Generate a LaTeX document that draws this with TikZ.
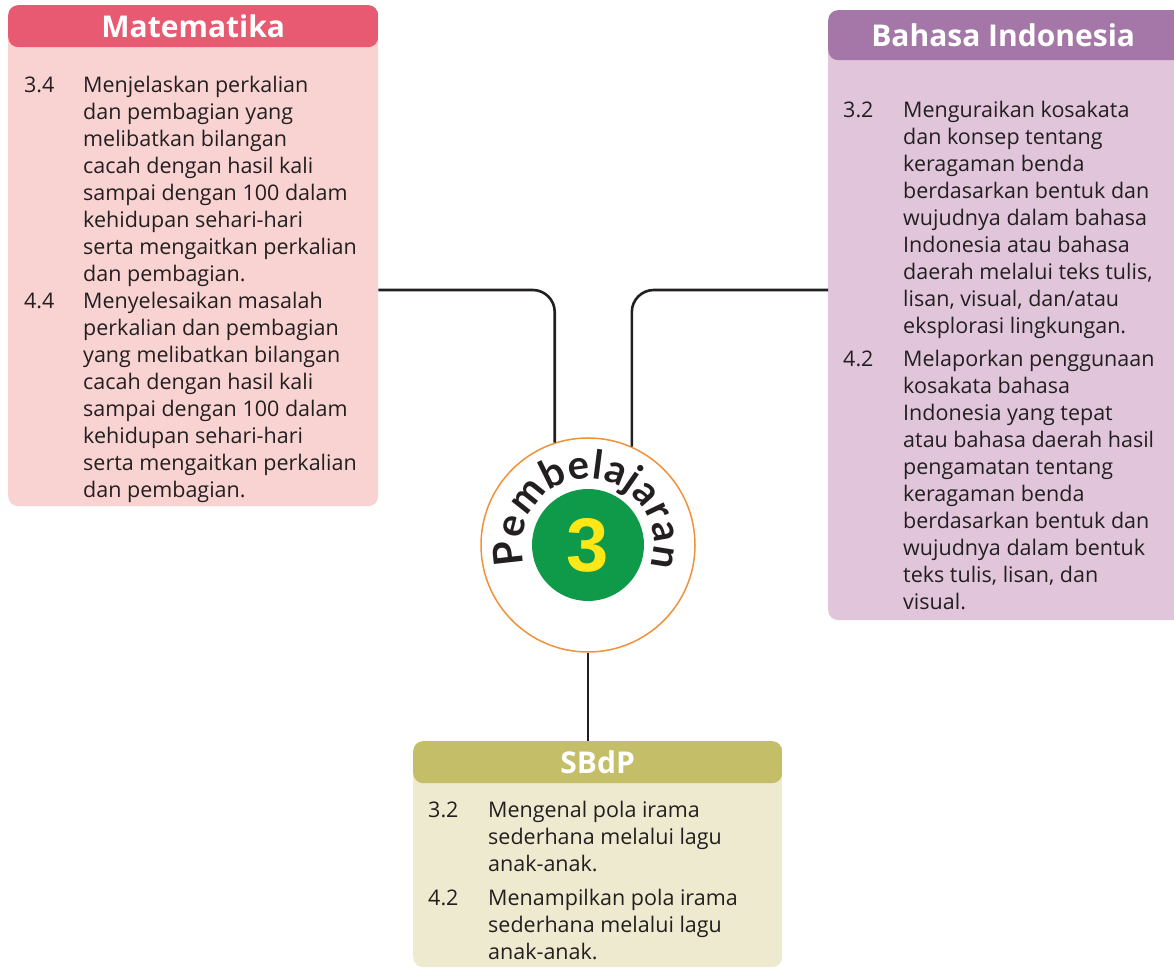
\documentclass[tikz,border=0pt]{standalone}
\usepackage{fontspec}
\setmainfont{Open Sans}
\newfontfamily\digitfont{Liberation Sans}
\newfontfamily\arcfont{Lato}
\usetikzlibrary{positioning,decorations.text}
\definecolor{matdark}{HTML}{E85A71}
\definecolor{matlight}{HTML}{F9D3D2}
\definecolor{bindark}{HTML}{A577A8}
\definecolor{binlight}{HTML}{E1C6DB}
\definecolor{sbdark}{HTML}{C5BE68}
\definecolor{sblight}{HTML}{EEEAD0}
\definecolor{ring}{HTML}{F0923A}
\definecolor{numgreen}{HTML}{0E9A48}
\definecolor{numyellow}{HTML}{FFE617}
\definecolor{ink}{HTML}{231F20}
\begin{document}
\begin{tikzpicture}[x=1pt,y=1pt,
  panel/.style n args={3}{rounded corners=10pt, inner sep=0pt, anchor=north west, fill=#2,
    path picture={\fill[#1] (path picture bounding box.north west) rectangle ([yshift=-#3]path picture bounding box.north east);}},
  title/.style={inner sep=0pt, text=white, font=\fontsize{30}{34}\selectfont\bfseries},
  items/.style={inner sep=0pt, anchor=north west, text=ink, font=\fontsize{21.5}{27}\selectfont},
  link/.style={draw=ink, line width=2.6pt, rounded corners=22pt}]
  \useasboundingbox (0,0) rectangle (1174,968);
  % boxes
  \node[panel={matdark}{matlight}{42pt}, minimum width=370, minimum height=501] (mat) at (8,963) {};
  \node[panel={bindark}{binlight}{50pt}, minimum width=356, minimum height=610] (bind) at (828,958) {};
  \node[panel={sbdark}{sblight}{42pt}, minimum width=369, minimum height=226] (sbdp) at (413,227) {};
  \node[title, minimum height=42, below=0pt of mat.north] (mathead) {Matematika};
  \node[title, minimum height=50, below=0pt of bind.north, xshift=-3pt] (bindhead) {Bahasa Indonesia};
  \node[title, minimum height=42, below=0pt of sbdp.north] (sbdphead) {SBdP};
  % lists
  \node[items, below right=68pt and 16pt of mat.north west] (matlist) {%
    \begin{tabular}{@{}p{59pt}@{}l@{}}
      3.4 & Menjelaskan perkalian\\
          & dan pembagian yang\\
          & melibatkan bilangan\\
          & cacah dengan hasil kali\\
          & sampai dengan 100 dalam\\
          & kehidupan sehari-hari\\
          & serta mengaitkan perkalian\\
          & dan pembagian.\\
      4.4 & Menyelesaikan masalah\\
          & perkalian dan pembagian\\
          & yang melibatkan bilangan\\
          & cacah dengan hasil kali\\
          & sampai dengan 100 dalam\\
          & kehidupan sehari-hari\\
          & serta mengaitkan perkalian\\
          & dan pembagian.
    \end{tabular}};
  \node[items, below right=88pt and 15pt of bind.north west] (bindlist) {%
    \begin{tabular}{@{}p{60pt}@{}l@{}}
      3.2 & Menguraikan kosakata\\
          & dan konsep tentang\\
          & keragaman benda\\
          & berdasarkan bentuk dan\\
          & wujudnya dalam bahasa\\
          & Indonesia atau bahasa\\
          & daerah melalui teks tulis,\\
          & lisan, visual, dan/atau\\
          & eksplorasi lingkungan.\\[6pt]
      4.2 & Melaporkan penggunaan\\
          & kosakata bahasa\\
          & Indonesia yang tepat\\
          & atau bahasa daerah hasil\\
          & pengamatan tentang\\
          & keragaman benda\\
          & berdasarkan bentuk dan\\
          & wujudnya dalam bentuk\\
          & teks tulis, lisan, dan\\
          & visual.
    \end{tabular}};
  \node[items, below right=57pt and 15pt of sbdp.north west] (sbdplist) {%
    \begin{tabular}{@{}p{60pt}@{}l@{}}
      3.2 & Mengenal pola irama\\
          & sederhana melalui lagu\\
          & anak-anak.\\[7pt]
      4.2 & Menampilkan pola irama\\
          & sederhana melalui lagu\\
          & anak-anak.
    \end{tabular}};
  % centre
  \node[circle, draw=ring, line width=1.5pt, fill=white, minimum size=214, inner sep=0pt] (pemb) at (588,423) {};
  \node[circle, fill=numgreen, minimum size=112, inner sep=0pt, text=numyellow,
    font=\digitfont\fontsize{76}{76}\selectfont\bfseries] (num) at (pemb.center) {3};
  \path[decorate, decoration={text along path, text align=fit to path, text color=ink,
    text={|\arcfont\fontsize{40}{40}\selectfont\bfseries|Pembelajaran}}]
    ([shift={(197:66)}]pemb.center) arc[start angle=197, end angle=-19, radius=66];
  % connectors
  \draw[link] ([yshift=-285pt]mat.north east) -| (pemb.108);
  \draw[link] ([yshift=-280pt]bind.north west) -| (pemb.66);
  \draw[link] (pemb.south) -- (sbdp.north -| pemb.south);
\end{tikzpicture}
\end{document}
